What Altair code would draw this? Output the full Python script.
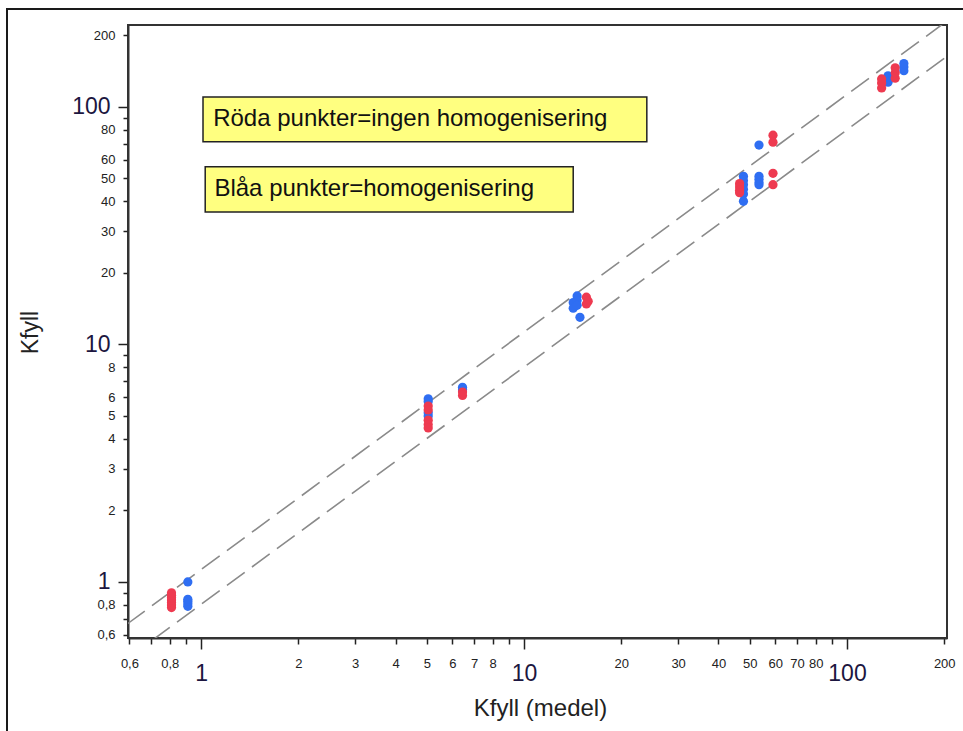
import altair as alt
import pandas as pd

# ---- data ----
red_x = [0.81, 0.81, 0.81, 0.81, 0.81, 0.81, 0.81,
         5.05, 5.05, 5.05, 5.05, 5.05, 6.45, 6.45,
         15.6, 15.8, 15.6,
         46.5, 46.5, 46.5, 46.5, 59, 59, 59, 59,
         128, 128, 128, 141, 141, 141]
red_y = [0.78, 0.80, 0.82, 0.84, 0.86, 0.88, 0.90,
         5.5, 5.3, 4.8, 4.6, 4.45, 6.3, 6.1,
         15.8, 15.2, 14.8,
         47.5, 46, 44.5, 43.5, 76, 71, 52.5, 47,
         120, 126, 131, 132, 139, 146]
blue_x = [0.91, 0.91, 0.91, 0.91, 0.91,
          5.05, 5.05, 5.05, 5.05, 6.45, 6.45,
          47.8, 47.8, 47.8, 47.8, 47.8, 47.8, 53.4, 53.4, 53.4, 53.4, 53.4,
          134, 134, 150, 150, 150]
blue_y = [0.79, 0.81, 0.83, 0.845, 1.0,
          5.9, 5.75, 5.15, 5.0, 6.6, 6.45,
          51, 49, 47, 45, 43, 40, 51, 49.5, 48, 47, 69,
          127, 135, 142, 147, 152]
blue_front_x = [14.2, 14.2, 14.6, 14.6, 14.6, 14.9]
blue_front_y = [15.0, 14.2, 16.0, 15.3, 14.6, 13.0]

line_x = [0.59, 205]
upper_y = [0.665, 231]
lower_y = [0.475, 164]

box_x = [1.014, 1.03]
box_x2 = [24.0, 14.2]
box_y = [110, 55.9]
box_y2 = [71.2, 36.1]
box_text = ["Röda punkter=ingen homogenisering", "Blåa punkter=homogenisering"]
text_x = [1.09, 1.10]
text_y = [88.5, 45.0]

tick_values = [0.6, 0.7, 0.8, 0.9, 1, 2, 3, 4, 5, 6, 7, 8, 9, 10,
               20, 30, 40, 50, 60, 70, 80, 90, 100, 200]
x_labeled = [0.6, 0.8, 1, 2, 3, 4, 5, 6, 7, 8, 10, 20, 30, 40, 50, 60, 70, 80, 100, 200]
y_labeled = [0.6, 0.8, 1, 2, 3, 4, 5, 6, 8, 10, 20, 30, 40, 50, 60, 80, 100, 200]

FONT = "Liberation Sans"
major = "datum.value == 1 || datum.value == 10 || datum.value == 100"


def label_expr(lst):
    arr = "[" + ",".join(str(v) for v in lst) + "]"
    return f"indexof({arr}, datum.value) >= 0 ? replace(format(datum.value, ''), '.', ',') : ''"


x_axis = alt.Axis(
    values=tick_values, labelExpr=label_expr(x_labeled), grid=False,
    labelFontSize={"condition": {"test": major, "value": 23}, "value": 13},
    labelColor={"condition": {"test": major, "value": "#1c1640"}, "value": "#222222"},
    tickSize={"condition": {"test": major, "value": 11}, "value": 6},
    labelPadding=13, labelOverlap=False, labelFlush=False, labelBound=False,
    labelFont=FONT, tickColor="#222", tickWidth=1.5, domainColor="#333", domainWidth=2,
    title="Kfyll (medel)", titleFont=FONT, titleFontSize=24, titleFontWeight="normal",
    titleColor="#222", titleX=412, titleY=70, titleBaseline="middle", titleAlign="center",
)
y_axis = alt.Axis(
    values=tick_values, labelExpr=label_expr(y_labeled), grid=False,
    labelFontSize={"condition": {"test": major, "value": 23}, "value": 13},
    labelColor={"condition": {"test": major, "value": "#1c1640"}, "value": "#222222"},
    tickSize={"condition": {"test": major, "value": 10}, "value": 5},
    labelPadding=8, labelOverlap=False, labelFlush=False, labelBound=False,
    labelFont=FONT, tickColor="#222", tickWidth=1.5, domainColor="#333", domainWidth=2,
    title="Kfyll", titleFont=FONT, titleFontSize=23, titleFontWeight="normal",
    titleColor="#222", titleX=-98, titleY=307, titleBaseline="middle", titleAlign="center",
    titleAngle=270,
)

xs = alt.Scale(type="log", domain=[0.594, 204], nice=False)
ys = alt.Scale(type="log", domain=[0.581, 221], nice=False)

X = alt.X("x:Q", scale=xs, axis=x_axis)
Y = alt.Y("y:Q", scale=ys, axis=y_axis)

lines_df = pd.DataFrame({
    "x": line_x + line_x,
    "y": upper_y + lower_y,
    "s": ["upper"] * 2 + ["lower"] * 2,
})
boxes_df = pd.DataFrame({"x": box_x, "x2": box_x2, "y": box_y, "y2": box_y2})
text_df = pd.DataFrame({"x": text_x, "y": text_y, "t": box_text})
red_df = pd.DataFrame({"x": red_x, "y": red_y})
blue_df = pd.DataFrame({"x": blue_x, "y": blue_y})
bluef_df = pd.DataFrame({"x": blue_front_x, "y": blue_front_y})

frame = alt.Chart(pd.DataFrame({"a": [0]})).mark_rect(
    filled=False, stroke="#1a1a1a", strokeWidth=2, clip=False
).encode(x=alt.value(-121), x2=alt.value(850), y=alt.value(-16), y2=alt.value(720))

lines = alt.Chart(lines_df).mark_line(
    clip=True, strokeDash=[22, 9], color="#8a8a8a", strokeWidth=1.6
).encode(x=X, y=Y, detail="s:N")

boxes = alt.Chart(boxes_df).mark_rect(
    fill="#ffff80", stroke="#222", strokeWidth=1.5
).encode(x=X, x2="x2:Q", y=Y, y2="y2:Q")

texts = alt.Chart(text_df).mark_text(
    align="left", baseline="middle", font=FONT, fontSize=24, color="#111"
).encode(x=X, y=Y, text="t:N")

pt = dict(filled=True, size=85, opacity=1, clip=True)
blue = alt.Chart(blue_df).mark_circle(color="#2f6ef2", **pt).encode(x=X, y=Y)
red = alt.Chart(red_df).mark_circle(color="#ee3a50", **pt).encode(x=X, y=Y)
bluef = alt.Chart(bluef_df).mark_circle(color="#2f6ef2", **pt).encode(x=X, y=Y)

chart = alt.layer(lines, frame, boxes, texts, blue, red, bluef).properties(
    width=819, height=613,
    autosize=alt.AutoSizeParams(type="none"),
    padding={"left": 128, "top": 25, "right": 16, "bottom": 93},
    background="white",
).configure_view(stroke="#333", strokeWidth=2)

chart.save("out.html", embed_options={"renderer": "svg", "actions": False})
